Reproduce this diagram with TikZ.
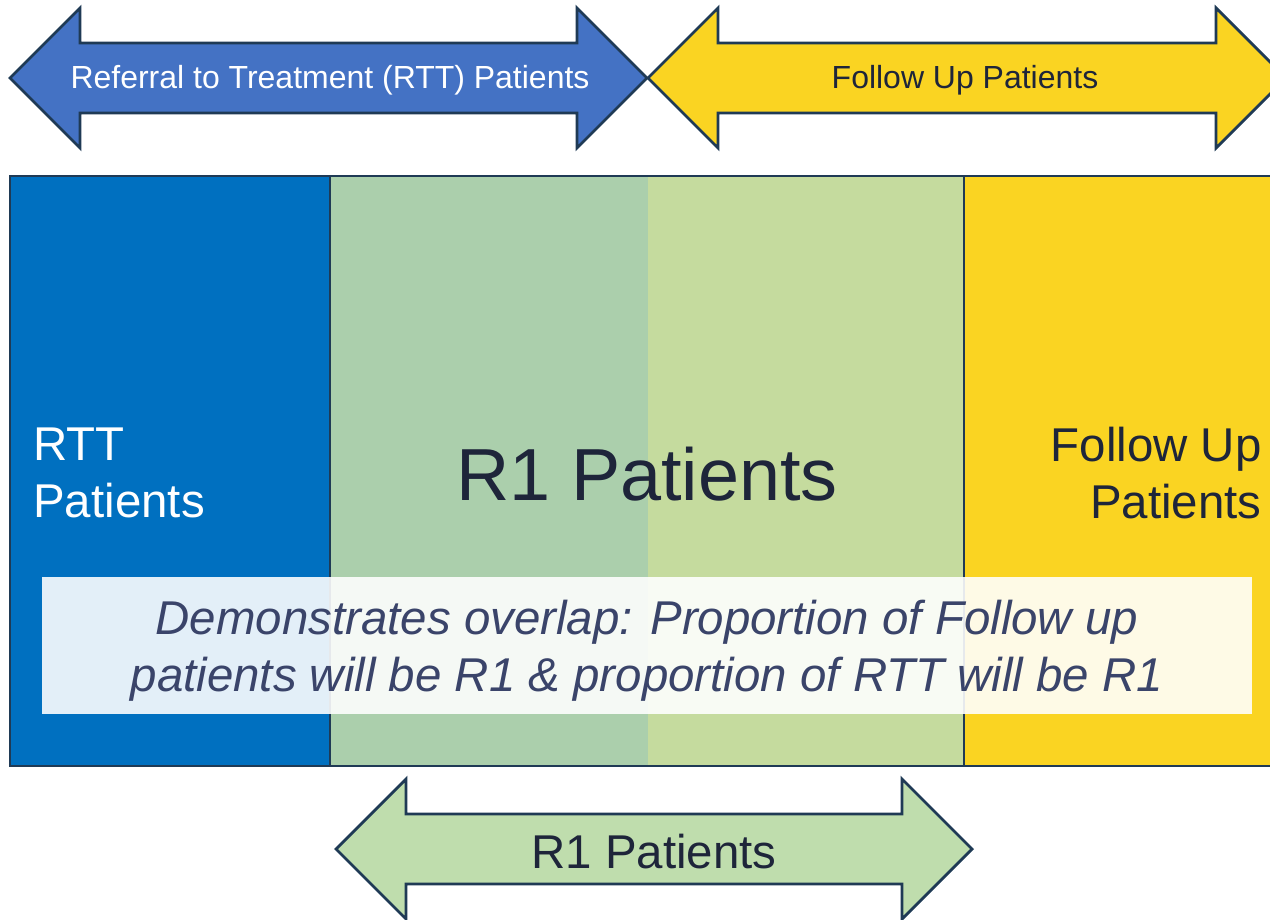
\documentclass[tikz,border=0pt]{standalone}
\usepackage{fontspec}
\setmainfont{Liberation Sans}
\definecolor{arrblue}{RGB}{68,114,196}
\definecolor{rttblue}{RGB}{0,112,192}
\definecolor{fuyellow}{RGB}{250,212,34}
\definecolor{rgreen}{RGB}{171,207,172}
\definecolor{rlime}{RGB}{197,219,158}
\definecolor{arrgreen}{RGB}{191,221,173}
\definecolor{edge}{RGB}{31,58,85}
\definecolor{ink}{RGB}{30,37,58}
\definecolor{noteink}{RGB}{58,68,106}
% block arrow with a head at both ends: x left, x right, y middle, fill
\newcommand\blockarrow[4]{%
  \draw[outline, fill=#4] (#1,#3) -- (#1+70,#3-70) -- (#1+70,#3-35) -- (#2-70,#3-35)
    -- (#2-70,#3-70) -- (#2,#3) -- (#2-70,#3+70) -- (#2-70,#3+35)
    -- (#1+70,#3+35) -- (#1+70,#3+70) -- cycle;}
\begin{document}
\begin{tikzpicture}[x=0.02cm, y=-0.02cm, line join=miter,
    outline/.style={draw=edge, line width=1.6pt},
    mid/.style={font=\fontsize{27}{32.3}\selectfont, inner sep=0pt},
    small/.style={font=\fontsize{18.2}{22}\selectfont, inner sep=0pt}]
  \useasboundingbox (0,0) rectangle (1270,919);
  \clip (0,0) rectangle (1270,919);
  % arrows on top
  \blockarrow{10}{647}{78}{arrblue}
  \blockarrow{648}{1286}{78}{fuyellow}
  \node[small, white, anchor=base] (rttarrow) at (330,89) {Referral to Treatment (RTT) Patients};
  \node[small, ink, anchor=base] (fuarrow) at (965,89) {Follow Up Patients};
  % the four bands
  \fill[rttblue] (10,176) rectangle (330,766);
  \fill[rgreen] (330,176) rectangle (648,766);
  \fill[rlime] (648,176) rectangle (964,766);
  \fill[fuyellow] (964,176) rectangle (1280,766);
  \draw[outline] (330,176) -- (330,766) (964,176) -- (964,766);
  \draw[outline] (10,176) rectangle (1280,766);
  \node[mid, white, align=left, anchor=base west] (rtt) at (33,517) {RTT\\Patients};
  \node[font=\fontsize{42}{50}\selectfont, inner sep=0pt, ink, anchor=base] (r1) at (647,500) {R1 Patients};
  \node[mid, ink, align=right, anchor=base east] (fu) at (1262,518) {Follow Up\\Patients};
  % note laid over the bands
  \fill[white, opacity=0.89] (42,577) rectangle (1252,714);
  \node[mid, noteink, align=center, anchor=base, font=\fontsize{27}{32.3}\selectfont\itshape] (note) at (647,691)
    {Demonstrates overlap: Proportion of Follow up\\patients will be R1 \& proportion of RTT will be R1};
  % arrow underneath
  \blockarrow{336}{972}{849}{arrgreen}
  \node[mid, ink, anchor=base] (r1arrow) at (654,868) {R1 Patients};
\end{tikzpicture}
\end{document}
